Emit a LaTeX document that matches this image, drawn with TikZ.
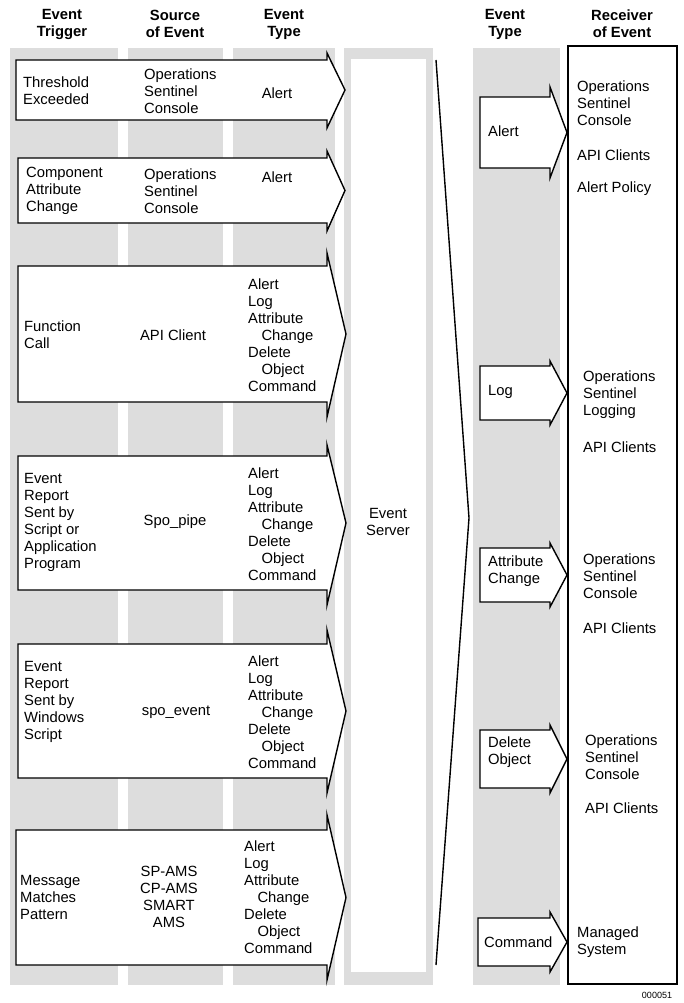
\documentclass[tikz,border=0pt]{standalone}
\usepackage{fontspec}
\setmainfont{Liberation Sans}
\usetikzlibrary{positioning}
\definecolor{lanegray}{RGB}{221,221,221}

% fat arrow: x-left, x-headbase, x-tip, y-top, y-bottom, head-top, head-bottom
\newcommand{\fatarrow}[7]{%
  \draw[line width=1.4pt, fill=white, line join=miter]
    (#1,#4) -- (#2,#4) -- (#2,#6) -- (#3,{(#4+#5)/2}) -- (#2,#7) -- (#2,#5) -- (#1,#5) -- cycle;}

\begin{document}
\begin{tikzpicture}[x=1pt, y=-1pt,
    every node/.style={font=\fontsize{14.8}{17}\selectfont, inner sep=0pt},
    head/.style={font=\fontsize{14.8}{17}\selectfont\bfseries, align=center},
    lefttext/.style={align=left, anchor=west},
    midtext/.style={align=center}]

\useasboundingbox (0,0) rectangle (684,1003);

% Lanes
\fill[lanegray] (10,48) rectangle (118,985);
\fill[lanegray] (128,48) rectangle (223,985);
\fill[lanegray] (233,48) rectangle (335,985);
\fill[lanegray] (344,48) rectangle (433,985);
\fill[white] (351,59) rectangle (426,972);
\fill[lanegray] (473,48) rectangle (560,985);

% Headers
\node[head] (h1) at (62,24) {Event\\Trigger};
\node[head] (h2) at (175,24) {Source\\of Event};
\node[head] (h3) at (284,24) {Event\\Type};
\node[head] (h4) at (505,24) {Event\\Type};
\node[head] (h5) at (622,24) {Receiver\\of Event};

% Left arrows
\fatarrow{16}{327}{345}{60}{120}{53}{128}
\fatarrow{18}{327}{345}{158}{223}{151}{231}
\fatarrow{18}{327}{346}{266}{402}{253}{417}
\fatarrow{18}{327}{346}{456}{590}{445}{605}
\fatarrow{18}{327}{346}{644}{778}{630}{793}
\fatarrow{16}{327}{346}{830}{965}{815}{980}

% Row 1
\node[lefttext] (trig1) at (23,91) {Threshold\\Exceeded};
\node[lefttext] (src1) at (144,91) {Operations\\Sentinel\\Console};
\node[midtext] (type1) at (277,93) {Alert};
% Row 2
\node[lefttext] (trig2) at (26,191) {Component\\Attribute\\Change};
\node[lefttext] (src2) at (144,191) {Operations\\Sentinel\\Console};
\node[midtext] (type2) at (277,177) {Alert};
% Row 3
\node[lefttext] (trig3) at (24,335) {Function\\Call};
\node[midtext] (src3) at (173,335) {API Client};
\node[lefttext] (type3) at (248,335) {Alert\\Log\\Attribute\\\hspace*{0.9em}Change\\Delete\\\hspace*{0.9em}Object\\Command};
% Row 4
\node[lefttext] (trig4) at (24,522) {Event\\Report\\Sent by\\Script or\\Application\\Program};
\node[midtext] (src4) at (175,522) {Spo\_pipe};
\node[lefttext] (type4) at (248,524) {Alert\\Log\\Attribute\\\hspace*{0.9em}Change\\Delete\\\hspace*{0.9em}Object\\Command};
% Row 5
\node[lefttext] (trig5) at (24,702) {Event\\Report\\Sent by\\Windows\\Script};
\node[midtext] (src5) at (176,712) {spo\_event};
\node[lefttext] (type5) at (248,712) {Alert\\Log\\Attribute\\\hspace*{0.9em}Change\\Delete\\\hspace*{0.9em}Object\\Command};
% Row 6
\node[lefttext] (trig6) at (20,897) {Message\\Matches\\Pattern};
\node[midtext] (src6) at (169,897) {SP-AMS\\CP-AMS\\SMART\\AMS};
\node[lefttext] (type6) at (244,897) {Alert\\Log\\Attribute\\\hspace*{0.9em}Change\\Delete\\\hspace*{0.9em}Object\\Command};

% Event server
\node[midtext] (server) at (388,522) {Event\\Server};
\draw[line width=1.4pt] (436,60) -- (469,518) -- (436,965);

% Receiver box
\draw[line width=1.4pt, fill=white] (568,46) rectangle (677,984);

% Right arrows
\fatarrow{480}{550}{567}{97}{168}{87}{178}
\fatarrow{480}{550}{567}{366}{420}{361}{425}
\fatarrow{480}{550}{567}{548}{602}{543}{607}
\fatarrow{480}{550}{567}{730}{788}{725}{793}
\fatarrow{478}{550}{567}{918}{966}{912}{972}

\node[lefttext] (out1) at (488,131) {Alert};
\node[lefttext] (out2) at (488,392) {Log};
\node[lefttext] (out3) at (488,571) {Attribute\\Change};
\node[lefttext] (out4) at (488,752) {Delete\\Object};
\node[lefttext] (out5) at (484,942) {Command};

% Receivers
\node[lefttext] (rcv1) at (577,103) {Operations\\Sentinel\\Console};
\node[lefttext] (rcv2) at (577,155) {API Clients};
\node[lefttext] (rcv3) at (577,189) {Alert Policy};
\node[lefttext] (rcv4) at (583,395) {Operations\\Sentinel\\Logging};
\node[lefttext] (rcv5) at (583,447) {API Clients};
\node[lefttext] (rcv6) at (583,576) {Operations\\Sentinel\\Console};
\node[lefttext] (rcv7) at (583,628) {API Clients};
\node[lefttext] (rcv8) at (585,757) {Operations\\Sentinel\\Console};
\node[lefttext] (rcv9) at (585,808) {API Clients};
\node[lefttext] (rcv10) at (577,942) {Managed\\System};

\node[font=\fontsize{9}{10}\selectfont] (figno) at (657,995) {000051};
\end{tikzpicture}
\end{document}
